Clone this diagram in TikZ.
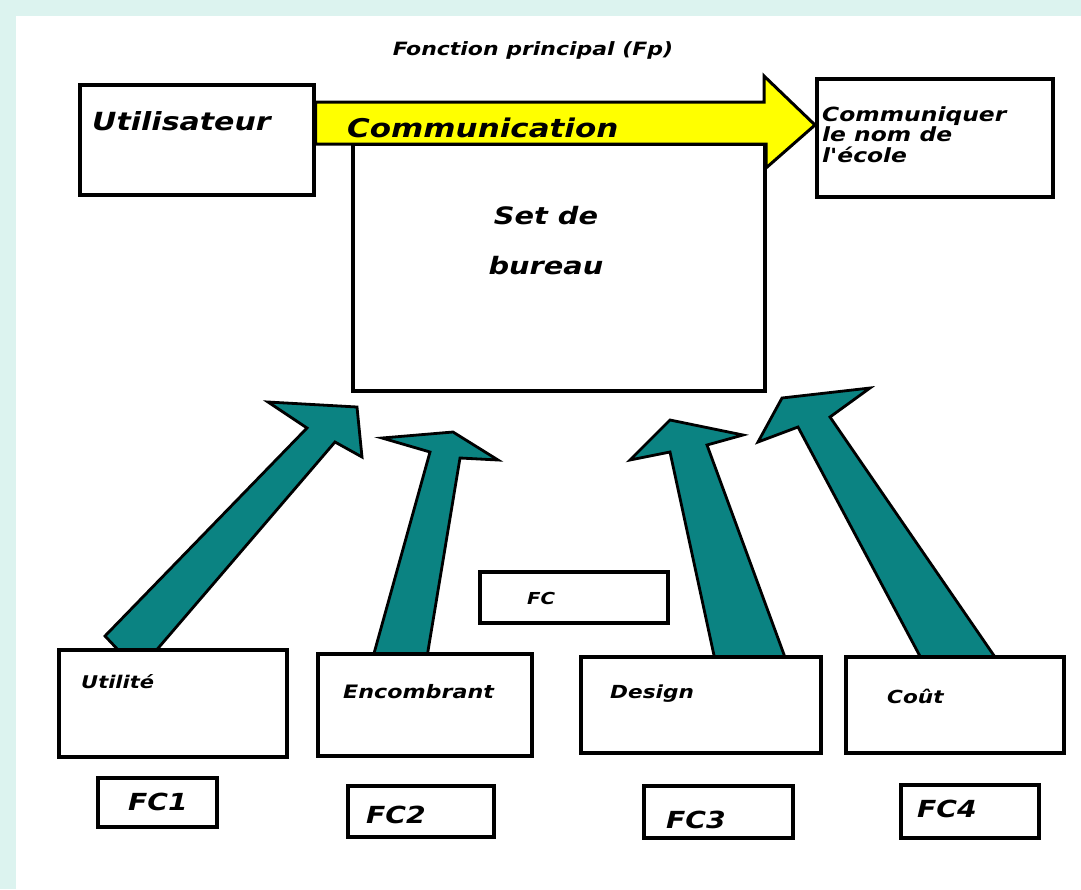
\documentclass[tikz,border=0pt]{standalone}
\usepackage{fontspec}
\newfontfamily\lblfont[FakeStretch=1.2]{DejaVu Sans}
\definecolor{sea}{HTML}{0B8382}
\definecolor{frame}{HTML}{DCF3EF}
\definecolor{sun}{HTML}{FFFF00}
\begin{document}
\begin{tikzpicture}[x=1pt,y=-1pt,
  box/.style={draw=black, line width=3.2pt, fill=white, inner sep=0pt, rectangle},
  fat/.style={fill=sea, draw=black, line width=2.8pt, line join=miter, miter limit=20},
  flow/.style={fill=sun, draw=black, line width=3pt, line join=miter},
  lbl/.style={inner sep=0pt, anchor=base west, text=black},
]
% page background and white sheet
\fill[frame] (0,0) rectangle (1081,889);
\fill[white] (16,16) rectangle (1081,889);
\useasboundingbox (0,0) rectangle (1081,889);

% title of the main function
\node[lbl, anchor=base, font={\lblfont\bfseries\itshape\fontsize{18.3}{20}\selectfont}] (fp) at (533,55) {Fonction principal (Fp)};

% upper boxes
\node[box, minimum width=234pt, minimum height=110pt] (user) at (197,140) {};
\node[box, minimum width=236pt, minimum height=118pt] (goal) at (935,138) {};
\node[box, minimum width=412pt, minimum height=247pt] (set) at (559,267.5) {};

% main flow arrow
\draw[flow] (user.east |- 0,102) -- (764,102) -- (764,76) -- (815,125) -- (766,168) -- (766,144) -- (user.east |- 0,144) -- cycle;

\node[lbl, font={\lblfont\bfseries\itshape\fontsize{25}{30}\selectfont}] (tuser) at (92,130) {Utilisateur};
\node[lbl, font={\lblfont\bfseries\itshape\fontsize{25.8}{30}\selectfont}] (tcom) at (347,137) {Communication};
\node[lbl, anchor=north west, align=left, font={\lblfont\bfseries\itshape\fontsize{19.5}{20.5}\selectfont}] (tgoal) at (822,106) {Communiquer\\le nom de\\l'école};
\node[inner sep=0pt, align=center, font={\lblfont\bfseries\itshape\fontsize{24}{50}\selectfont}] (tset) at (546,241) {Set de\\bureau};

% constraint arrows towards the product
\draw[fat] (121,653) -- (105,636) -- (307,428) -- (268,402) -- (357,407) -- (362,457) -- (335,442) -- (154,653) -- cycle;
\draw[fat] (373,657) -- (430,452) -- (382,438) -- (453,432) -- (498,460) -- (460,458) -- (427,657) -- cycle;
\draw[fat] (715,660) -- (670,452) -- (630,460) -- (670,420) -- (743,435) -- (707,445) -- (786,660) -- cycle;
\draw[fat] (922,660) -- (798,427) -- (758,442) -- (782,398) -- (870,388) -- (830,417) -- (997,660) -- cycle;

% constraint boxes
\node[box, minimum width=188pt, minimum height=51pt] (fc) at (574,597.5) {};
\node[box, minimum width=228pt, minimum height=107pt] (util) at (173,703.5) {};
\node[box, minimum width=214pt, minimum height=102pt] (enc) at (425,705) {};
\node[box, minimum width=240pt, minimum height=96pt] (design) at (701,705) {};
\node[box, minimum width=218pt, minimum height=96pt] (cout) at (955,705) {};

\node[box, minimum width=119pt, minimum height=49pt] (fc1) at (157.5,802.5) {};
\node[box, minimum width=146pt, minimum height=51pt] (fc2) at (421,811.5) {};
\node[box, minimum width=149pt, minimum height=52pt] (fc3) at (718.5,812) {};
\node[box, minimum width=138pt, minimum height=53pt] (fc4) at (970,811.5) {};

% labels
\begin{scope}[every node/.append style={lbl, font={\lblfont\bfseries\itshape\fontsize{18}{20}\selectfont}}]
\node (tfc) at (527,604) {\fontsize{16.5}{18}\selectfont FC};
\node (tutil) at (81,688) {\fontsize{17.5}{18}\selectfont Utilité};
\node (tenc) at (343,698) {\fontsize{18.5}{20}\selectfont Encombrant};
\node (tdes) at (610,698) {Design};
\node (tcout) at (887,703) {Coût};
\end{scope}
\begin{scope}[every node/.append style={lbl, font={\lblfont\bfseries\itshape\fontsize{23.5}{26}\selectfont}}]
\node (tfc1) at (128,810) {FC1};
\node (tfc2) at (366,823) {FC2};
\node (tfc3) at (666,828) {FC3};
\node (tfc4) at (917,817) {FC4};
\end{scope}
\end{tikzpicture}
\end{document}
